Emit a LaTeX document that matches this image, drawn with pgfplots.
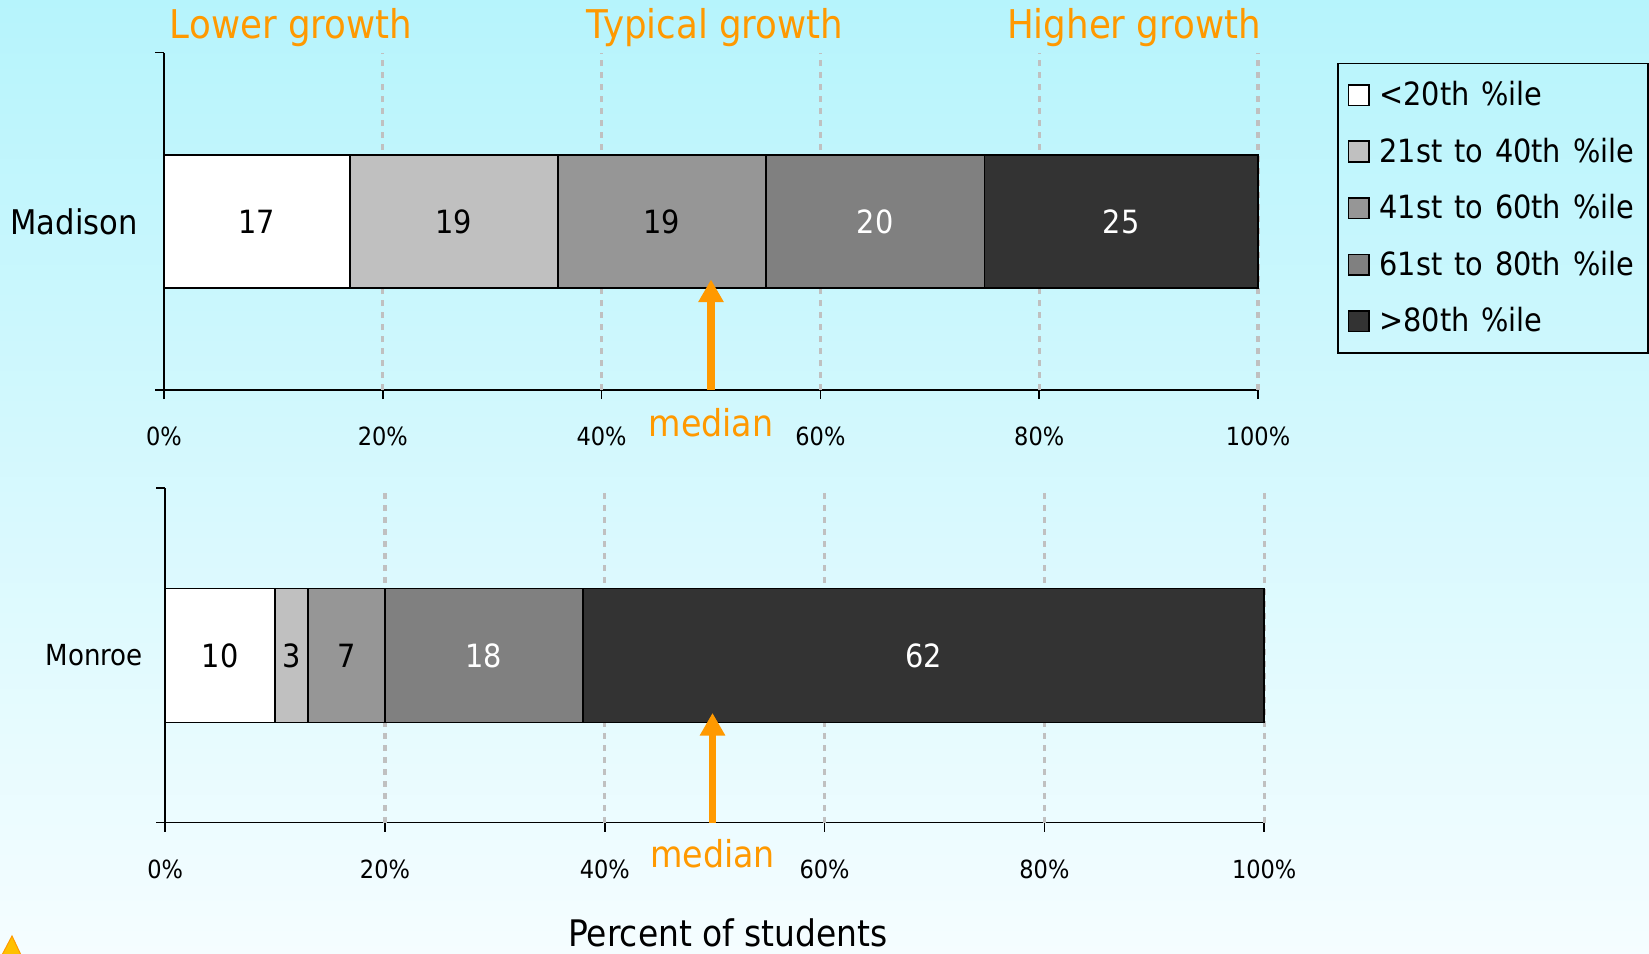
\documentclass[border=0pt]{standalone}
\usepackage{pgfplots}
\pgfplotsset{compat=1.18}
\usepackage{fontspec}
\setmainfont{DejaVu Sans}[FakeStretch=0.9]
\newfontfamily\legfont{DejaVu Sans}[FakeStretch=0.9, WordSpace=1.3]
\usetikzlibrary{arrows.meta}
\definecolor{bgtop}{RGB}{182,244,252}
\definecolor{bgbot}{RGB}{245,253,255}
\definecolor{orng}{RGB}{255,153,0}
\definecolor{gridc}{RGB}{192,192,192}
\definecolor{c1}{RGB}{255,255,255}
\definecolor{c2}{RGB}{192,192,192}
\definecolor{c3}{RGB}{150,150,150}
\definecolor{c4}{RGB}{128,128,128}
\definecolor{c5}{RGB}{51,51,51}
\newcommand{\fs}[1]{\fontsize{#1}{#1}\selectfont}

\pgfplotsset{
 growthaxis/.style={
  scale only axis,
  axis lines=left,
  axis line style={-, line width=0.8pt, black},
  xbar stacked,
  xmin=0, xmax=100, ymin=0, ymax=1,
  xtick={0,20,40,60,80,100},
  xticklabels={0\%,20\%,40\%,60\%,80\%,100\%},
  ytick={0,1}, yticklabels={},
  tick align=outside,
  major tick length=4.5pt,
  tick style={black, line width=0.8pt},
  xticklabel style={font=\fs{12.5}, anchor=base, yshift=-23.3pt},
  extra x ticks={20,40,60,80,100},
  extra x tick labels={},
  extra x tick style={grid=major, major tick length=0pt},
  grid style={gridc, line width=1.6pt, dash pattern=on 3pt off 3pt},
  clip=false,
  legend image code/.code={\draw[#1,draw=black,line width=0.8pt] (0.5pt,-5.2pt) rectangle (10.8pt,5.2pt); \path (13.5pt,0pt);},
 }
}

\begin{document}
\begin{tikzpicture}
\shade[top color=bgtop, bottom color=bgbot] (0pt,0pt) rectangle (824.5pt,476.5pt);

% Madison
\begin{axis}[growthaxis,
  at={(82pt,281.4pt)}, anchor=south west,
  width=547pt, height=168.8pt, bar width=66.5pt,
  legend style={at={(1.0722,0.970)}, anchor=north west, draw=black, line width=0.8pt,
    fill=none, font=\legfont\fs{16}, row sep=10.6pt, inner xsep=5pt, inner ysep=7pt,
    cells={anchor=west}},
]
\addplot[fill=c1, draw=black, line width=0.8pt] coordinates {(17,0.5)};
\addplot[fill=c2, draw=black, line width=0.8pt] coordinates {(19,0.5)};
\addplot[fill=c3, draw=black, line width=0.8pt] coordinates {(19,0.5)};
\addplot[fill=c4, draw=black, line width=0.8pt] coordinates {(20,0.5)};
\addplot[fill=c5, draw=black, line width=0.8pt] coordinates {(25,0.5)};
\legend{<20th \%ile, 21st to 40th \%ile, 41st to 60th \%ile, 61st to 80th \%ile, >80th \%ile}
\coordinate (A1) at (axis cs:8.5,0.5);
\coordinate (A2) at (axis cs:26.5,0.5);
\coordinate (A3) at (axis cs:45.5,0.5);
\coordinate (A4) at (axis cs:65,0.5);
\coordinate (A5) at (axis cs:87.5,0.5);
\coordinate (AL) at (axis cs:0,0.5);
\coordinate (AM0) at (axis cs:50,0);
\coordinate (AM1) at (axis cs:50,0.328);
\end{axis}
\node[font=\fs{16}] at (A1) {17};
\node[font=\fs{16}] at (A2) {19};
\node[font=\fs{16}] at (A3) {19};
\node[font=\fs{16}, white] at (A4) {20};
\node[font=\fs{16}, white] at (A5) {25};
\node[font=\fs{17}, anchor=east, inner sep=0pt, xshift=-13pt] at (AL) {Madison};
\draw[orng, line width=3.85pt, -{Triangle[width=12pt,length=11.3pt]}] (AM0) -- (AM1);
\node[orng, font=\fs{18.5}, anchor=base, yshift=-23pt] at (AM0) {median};

% Monroe
\begin{axis}[growthaxis,
  at={(82.6pt,65.2pt)}, anchor=south west,
  width=549.5pt, height=167.2pt, bar width=67pt,
]
\addplot[fill=c1, draw=black, line width=0.8pt] coordinates {(10,0.5)};
\addplot[fill=c2, draw=black, line width=0.8pt] coordinates {(3,0.5)};
\addplot[fill=c3, draw=black, line width=0.8pt] coordinates {(7,0.5)};
\addplot[fill=c4, draw=black, line width=0.8pt] coordinates {(18,0.5)};
\addplot[fill=c5, draw=black, line width=0.8pt] coordinates {(62,0.5)};
\coordinate (B1) at (axis cs:5,0.5);
\coordinate (B2) at (axis cs:11.5,0.5);
\coordinate (B3) at (axis cs:16.5,0.5);
\coordinate (B4) at (axis cs:29,0.5);
\coordinate (B5) at (axis cs:69,0.5);
\coordinate (BL) at (axis cs:0,0.5);
\coordinate (BM0) at (axis cs:49.8,0);
\coordinate (BM1) at (axis cs:49.8,0.328);
\end{axis}
\node[font=\fs{16}] at (B1) {10};
\node[font=\fs{16}] at (B2) {3};
\node[font=\fs{16}] at (B3) {7};
\node[font=\fs{16}, white] at (B4) {18};
\node[font=\fs{16}, white] at (B5) {62};
\node[font=\fs{14.5}, anchor=east, inner sep=0pt, xshift=-11pt] at (BL) {Monroe};
\draw[orng, line width=3.85pt, -{Triangle[width=12pt,length=11.3pt]}] (BM0) -- (BM1);
\node[orng, font=\fs{18.5}, anchor=base, yshift=-22.5pt] at (BM0) {median};

% headings
\node[orng, font=\fs{19.8}, anchor=base] at (145.5pt,457pt) {Lower growth};
\node[orng, font=\fs{19.8}, anchor=base] at (357.5pt,457pt) {Typical growth};
\node[orng, font=\fs{19.8}, anchor=base] at (567pt,457pt) {Higher growth};
\node[font=\fs{18.3}, anchor=base] at (364pt,3.2pt) {Percent of students};
% corner decoration
\filldraw[fill={rgb,255:red,255;green,192;blue,0}, draw=orng, line width=0.5pt] (1pt,-1pt) -- (6pt,8.5pt) -- (10.5pt,-1pt) -- cycle;
\pgfresetboundingbox
\path (0pt,0pt) rectangle (824.5pt,476.5pt);
\end{tikzpicture}
\end{document}
